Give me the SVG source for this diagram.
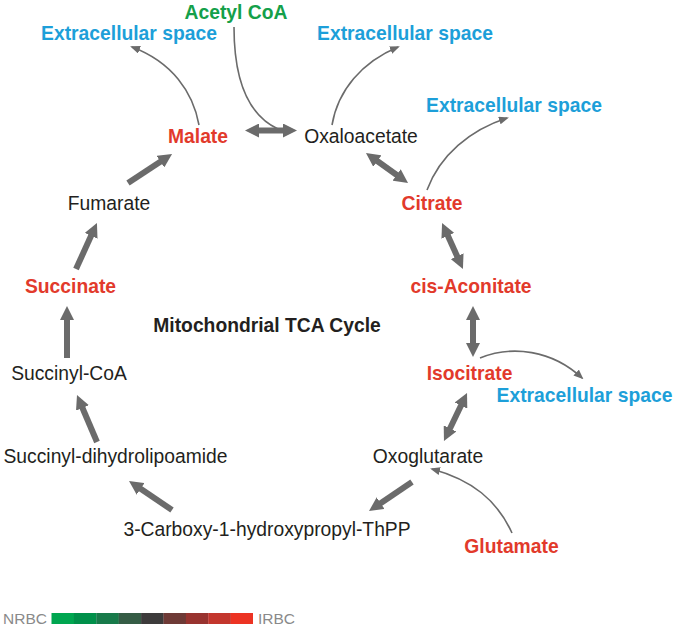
<svg xmlns="http://www.w3.org/2000/svg" width="677" height="629" viewBox="0 0 677 629">
<style>
text{font-family:"Liberation Sans",Arial,sans-serif;font-size:19.3px;text-anchor:middle}
.b{font-weight:bold}
.red{fill:#e23a2b}
.blue{fill:#1d9fd9}
.green{fill:#14a04a}
.blk{fill:#231f20}
.thick{stroke:#6b6b6b;stroke-width:6;fill:none}
.thin{stroke:#6b6b6b;stroke-width:1.6;fill:none}
.leg{font-size:15.5px;fill:#8a8a8a;text-anchor:start}
</style>
<defs>
<marker id="big" markerUnits="userSpaceOnUse" viewBox="0 0 14 14" markerWidth="14" markerHeight="14" refX="4" refY="7" orient="auto-start-reverse">
<path d="M0,0 L14,7 L0,14 z" fill="#6b6b6b"/>
</marker>
<marker id="small" markerUnits="userSpaceOnUse" viewBox="0 0 10 8" markerWidth="10" markerHeight="8" refX="8" refY="4" orient="auto">
<path d="M0,0 L10,4 L0,8 z" fill="#6b6b6b"/>
</marker>
</defs>
<g id="connectors">
<line class="thick" x1="255" y1="130.5" x2="287" y2="130.5" marker-start="url(#big)" marker-end="url(#big)"/>
<line class="thick" x1="374.1" y1="158.8" x2="399.9" y2="177.2" marker-start="url(#big)" marker-end="url(#big)"/>
<line class="thick" x1="446.2" y1="232.1" x2="458.8" y2="259.9" marker-start="url(#big)" marker-end="url(#big)"/>
<line class="thick" x1="473" y1="316" x2="473" y2="347" marker-start="url(#big)" marker-end="url(#big)"/>
<line class="thick" x1="462.7" y1="402" x2="448.3" y2="432" marker-start="url(#big)" marker-end="url(#big)"/>
<line class="thick" x1="412" y1="482" x2="377.3" y2="505.4" marker-end="url(#big)"/>
<line class="thick" x1="172" y1="510" x2="137.3" y2="486.6" marker-end="url(#big)"/>
<line class="thick" x1="97" y1="442" x2="80.9" y2="404.2" marker-end="url(#big)"/>
<line class="thick" x1="67" y1="358" x2="67" y2="316" marker-end="url(#big)"/>
<line class="thick" x1="76" y1="269" x2="92.8" y2="232.1" marker-end="url(#big)"/>
<line class="thick" x1="128" y1="183" x2="163.7" y2="159.5" marker-end="url(#big)"/>
<path class="thin" d="M199,125 C193,92 172,62 132,47" marker-end="url(#small)"/>
<path class="thin" d="M234,27 C234,80 248,115 278,129"/>
<path class="thin" d="M332,125 C338,90 362,62 398,47" marker-end="url(#small)"/>
<path class="thin" d="M427,190 C440,155 470,130 507,118" marker-end="url(#small)"/>
<path class="thin" d="M480,358 C512,345 552,350 582,378" marker-end="url(#small)"/>
<path class="thin" d="M512,533 C497,500 472,480 432,469" marker-end="url(#small)"/>
</g>
<g id="acetylcoa"><text class="b green" x="236" y="19">Acetyl CoA</text></g>
<g id="ext1"><text class="b blue" x="129" y="40">Extracellular space</text></g>
<g id="ext2"><text class="b blue" x="405" y="40">Extracellular space</text></g>
<g id="ext3"><text class="b blue" x="514" y="112">Extracellular space</text></g>
<g id="malate"><text class="b red" x="198" y="143">Malate</text></g>
<g id="oxaloacetate"><text class="blk" x="361" y="143">Oxaloacetate</text></g>
<g id="citrate"><text class="b red" x="432" y="210">Citrate</text></g>
<g id="fumarate"><text class="blk" x="109" y="210">Fumarate</text></g>
<g id="cisaconitate"><text class="b red" x="471" y="293">cis-Aconitate</text></g>
<g id="succinate"><text class="b red" x="70.5" y="293">Succinate</text></g>
<g id="title"><text class="b blk" x="267" y="332">Mitochondrial TCA Cycle</text></g>
<g id="succinylcoa"><text class="blk" x="69" y="380">Succinyl-CoA</text></g>
<g id="isocitrate"><text class="b red" x="469.5" y="380">Isocitrate</text></g>
<g id="ext4"><text class="b blue" x="584.5" y="402">Extracellular space</text></g>
<g id="oxoglutarate"><text class="blk" x="428" y="463">Oxoglutarate</text></g>
<g id="sdl"><text class="blk" x="115.5" y="463">Succinyl-dihydrolipoamide</text></g>
<g id="carboxy"><text class="blk" x="267" y="536">3-Carboxy-1-hydroxypropyl-ThPP</text></g>
<g id="glutamate"><text class="b red" x="511.5" y="553">Glutamate</text></g>
<g id="legend">
<text class="leg" x="3" y="624">NRBC</text>
<rect x="51.5" y="613" width="22.6" height="11" fill="#00a650"/>
<rect x="73.9" y="613" width="22.6" height="11" fill="#00904a"/>
<rect x="96.3" y="613" width="22.6" height="11" fill="#187a4a"/>
<rect x="118.7" y="613" width="22.6" height="11" fill="#355c45"/>
<rect x="141.1" y="613" width="22.6" height="11" fill="#3d3b3b"/>
<rect x="163.5" y="613" width="22.6" height="11" fill="#6e3a36"/>
<rect x="185.9" y="613" width="22.6" height="11" fill="#98332f"/>
<rect x="208.3" y="613" width="22.6" height="11" fill="#c3362d"/>
<rect x="230.7" y="613" width="22.3" height="11" fill="#ec3323"/>
<text class="leg" x="258" y="624">IRBC</text>
</g>
</svg>
